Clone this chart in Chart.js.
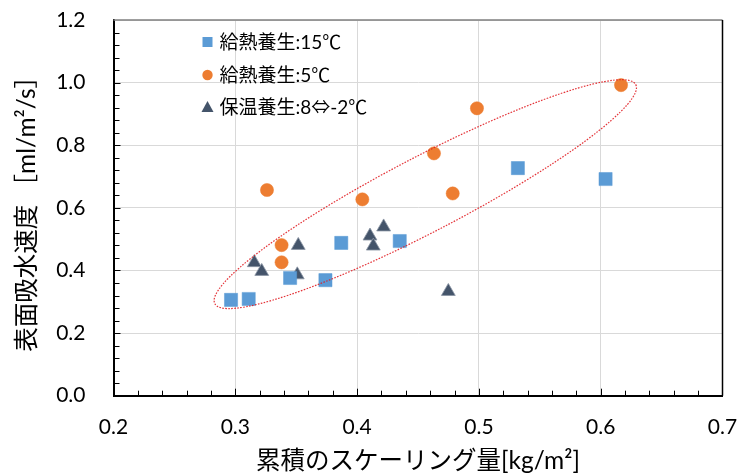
<!DOCTYPE html>
<html>
<head>
<meta charset="utf-8">
<script src="https://cdn.jsdelivr.net/npm/chart.js@4.4.1/dist/chart.umd.min.js"></script>
<style>
  html, body { margin: 0; padding: 0; background: #fff; }
  #wrap { width: 747px; height: 476px; position: relative; }
</style>
</head>
<body>
<div id="wrap"><canvas id="c" width="747" height="476"></canvas></div>
<script>
// ---- data ----
const seriesLabels = ['給熱養生:15℃', '給熱養生:5℃', '保温養生:8⇔-2℃'];
const xWarm15 = [0.2965, 0.311, 0.345, 0.374, 0.387, 0.435, 0.532, 0.604];
const yWarm15 = [0.306, 0.309, 0.376, 0.369, 0.488, 0.494, 0.727, 0.692];
const xWarm5 = [0.326, 0.338, 0.338, 0.4043, 0.4631, 0.4785, 0.4984, 0.6167];
const yWarm5 = [0.657, 0.481, 0.426, 0.627, 0.774, 0.646, 0.918, 0.992];
const xKeep = [0.3156, 0.3217, 0.3517, 0.3509, 0.4106, 0.4133, 0.4218, 0.4749];
const yKeep = [0.425, 0.397, 0.480, 0.386, 0.510, 0.478, 0.539, 0.333];
const xTickLabels = ['0.2', '0.3', '0.4', '0.5', '0.6', '0.7'];
const yTickLabels = ['0.0', '0.2', '0.4', '0.6', '0.8', '1.0', '1.2'];
// ellipse annotation: ends of its long axis (data units)
const ellipseTipX = [0.2832, 0.6288];
const ellipseTipY = [0.294, 0.9936];

const xTitle = '累積のスケーリング量[kg/m²]';
const yTitle = '表面吸水速度 ［ml/m²/s］';

const FONT = "Lato, 'Noto Sans CJK JP', sans-serif";
const colors = ['#5B9BD5', '#ED7D31', '#44546A'];

function pts(xs, ys) { return xs.map((x, i) => ({ x: x, y: ys[i] })); }
function noPad(s) { s.paddingLeft = 0; s.paddingRight = 0; s.paddingTop = 0; s.paddingBottom = 0; }

const framePlugin = {
  id: 'frameAndExtras',
  beforeDatasetsDraw(chart) {
    const { ctx, chartArea: a, scales } = chart;
    ctx.save();
    ctx.strokeStyle = '#7f7f7f';
    ctx.lineWidth = 1.5;
    ctx.beginPath();
    ctx.moveTo(a.left, a.top); ctx.lineTo(a.right, a.top);
    ctx.stroke();
    ctx.strokeStyle = '#000';
    ctx.beginPath();
    ctx.moveTo(a.right, a.top); ctx.lineTo(a.right, a.bottom);
    ctx.stroke();
    ctx.strokeStyle = '#000';
    ctx.lineWidth = 1;
    const xs = scales.x, ys = scales.y;
    for (let i = 1; i < 25; i++) {
      const v = xs.min + i * (xs.max - xs.min) / 25;
      const px = Math.round(xs.getPixelForValue(v)) + 0.5;
      const len = (i % 5 === 0) ? 7 : 5;
      ctx.beginPath(); ctx.moveTo(px, a.bottom); ctx.lineTo(px, a.bottom - len); ctx.stroke();
    }
    for (let i = 1; i < 30; i++) {
      const v = ys.min + i * (ys.max - ys.min) / 30;
      const py = Math.round(ys.getPixelForValue(v)) + 0.5;
      const len = (i % 5 === 0) ? 7 : 6;
      ctx.beginPath(); ctx.moveTo(a.left, py); ctx.lineTo(a.left + len, py); ctx.stroke();
    }
    ctx.restore();
  },
  afterDatasetsDraw(chart) {
    const { ctx, scales } = chart;
    const x1 = scales.x.getPixelForValue(ellipseTipX[0]);
    const y1 = scales.y.getPixelForValue(ellipseTipY[0]);
    const x2 = scales.x.getPixelForValue(ellipseTipX[1]);
    const y2 = scales.y.getPixelForValue(ellipseTipY[1]);
    const cx = (x1 + x2) / 2, cy = (y1 + y2) / 2;
    const rx = Math.hypot(x2 - x1, y2 - y1) / 2;
    const ry = 37.5;
    const ang = Math.atan2(y2 - y1, x2 - x1);
    ctx.save();
    ctx.strokeStyle = 'rgba(225,30,35,0.9)';
    ctx.lineWidth = 1.2;
    ctx.setLineDash([1.6, 1.4]);
    ctx.beginPath();
    ctx.ellipse(cx, cy, rx, ry, ang, 0, Math.PI * 2);
    ctx.stroke();
    ctx.restore();

    ctx.save();
    const lx = 207.5, ly = [42, 75, 107];
    ctx.font = "19px " + FONT;
    ctx.textBaseline = 'middle';
    chart.data.datasets.forEach((ds, i) => {
      const y = ly[i];
      ctx.fillStyle = ds.backgroundColor;
      ctx.beginPath();
      if (ds.pointStyle === 'rect') {
        ctx.rect(lx - 5, y - 5, 10, 10);
      } else if (ds.pointStyle === 'circle') {
        ctx.arc(lx, y, 5.2, 0, Math.PI * 2);
      } else {
        ctx.moveTo(lx, y - 6); ctx.lineTo(lx + 6, y + 5); ctx.lineTo(lx - 6, y + 5); ctx.closePath();
      }
      ctx.fill();
      ctx.fillStyle = '#000';
      ctx.fillText(ds.label, lx + 12, y + 1);
    });
    ctx.restore();
  }
};

new Chart(document.getElementById('c'), {
  type: 'scatter',
  data: {
    datasets: [
      { label: seriesLabels[0], data: pts(xWarm15, yWarm15), pointStyle: 'rect', pointRadius: 9.3,
        backgroundColor: colors[0], borderColor: colors[0], borderWidth: 0.5 },
      { label: seriesLabels[1], data: pts(xWarm5, yWarm5), pointStyle: 'circle', pointRadius: 6.6,
        backgroundColor: colors[1], borderColor: colors[1], borderWidth: 0.5 },
      { label: seriesLabels[2], data: pts(xKeep, yKeep), pointStyle: 'triangle', pointRadius: 8,
        backgroundColor: colors[2], borderColor: '#8a94a3', borderWidth: 0.8 }
    ]
  },
  options: {
    responsive: false,
    animation: false,
    events: [],
    layout: { padding: { top: 20, right: 24.5, left: 0, bottom: 0 } },
    plugins: { legend: { display: false }, tooltip: { enabled: false } },
    scales: {
      x: {
        type: 'linear', min: 0.2, max: 0.7,
        afterFit(s) { s.height = 80.3; noPad(s); },
        ticks: {
          stepSize: 0.1, padding: 19, color: '#000',
          font: { family: FONT, size: 21 },
          callback: (v) => { const i = Math.round((v - 0.2) / 0.1); return xTickLabels[i] ?? ''; }
        },
        grid: { color: '#D9D9D9', lineWidth: 1, drawTicks: false },
        border: { display: true, color: '#000', width: 2 },
        title: { display: true, text: xTitle, color: '#000',
          font: { family: FONT, size: 24.5, lineHeight: 1 }, padding: { top: 0, bottom: 3 } }
      },
      y: {
        type: 'linear', min: 0, max: 1.2,
        afterFit(s) { s.width = 113.5; noPad(s); },
        ticks: {
          stepSize: 0.2, padding: 28, color: '#000',
          font: { family: FONT, size: 21 },
          callback: (v) => { const i = Math.round(v / 0.2); return yTickLabels[i] ?? ''; }
        },
        grid: { color: '#D9D9D9', lineWidth: 1, drawTicks: false },
        border: { display: true, color: '#000', width: 2 },
        title: { display: true, text: yTitle, color: '#000',
          font: { family: FONT, size: 24.5, lineHeight: 1 }, padding: { top: 15, bottom: 0 } }
      }
    }
  },
  plugins: [framePlugin]
});
</script>
</body>
</html>
